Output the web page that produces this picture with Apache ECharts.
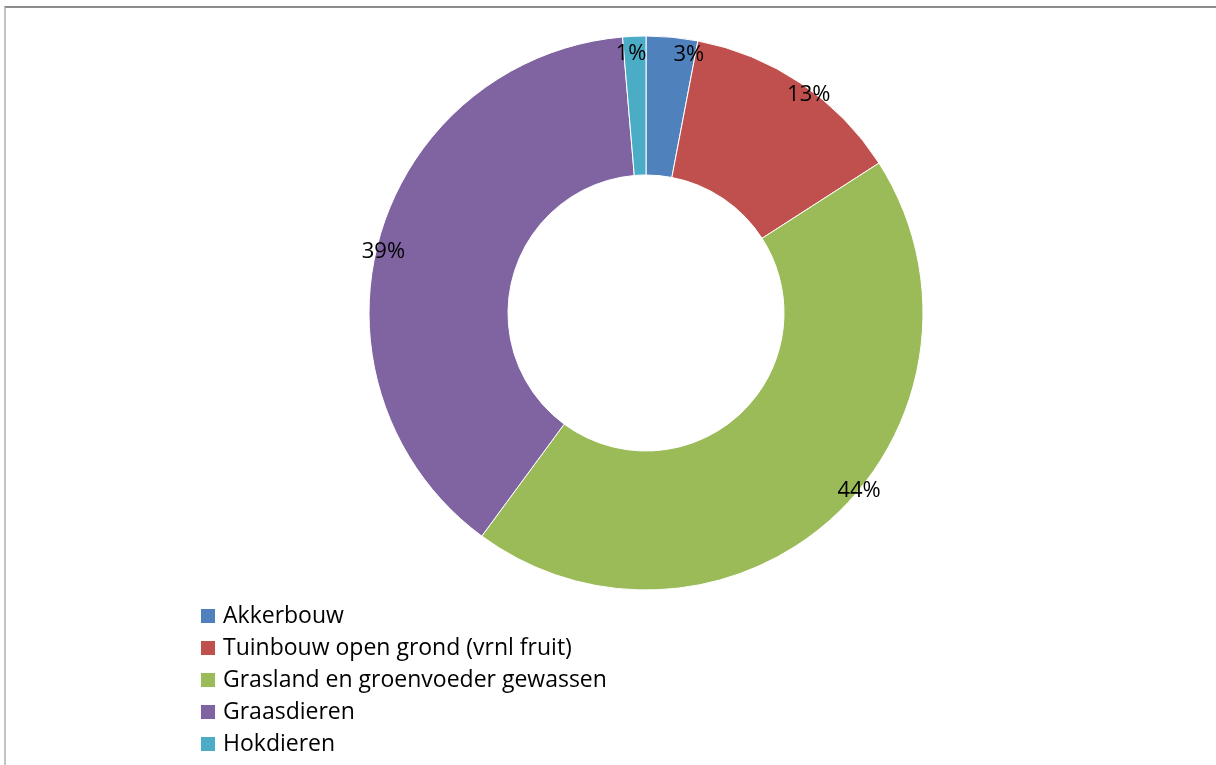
<!DOCTYPE html>
<html>
<head>
<meta charset="utf-8">
<script src="https://cdn.jsdelivr.net/npm/echarts@6/dist/echarts.min.js"></script>
<style>
html,body{margin:0;padding:0;background:#fff;width:1216px;height:765px;overflow:hidden;}
#frame{position:absolute;left:4px;top:6px;width:1220px;height:800px;border-top:2px solid #8c8c8c;border-left:2px solid #c4c4c4;box-sizing:border-box;}
#chart{position:absolute;left:0;top:0;width:1216px;height:765px;}
</style>
</head>
<body>
<div id="frame"></div>
<div id="chart"></div>
<script>
const categories = ['Akkerbouw', 'Tuinbouw open grond (vrnl fruit)', 'Grasland en groenvoeder gewassen', 'Graasdieren', 'Hokdieren'];
const values = [3.0, 12.9, 44.2, 38.55, 1.35];
const colors = ['#4F81BD', '#C0504D', '#9BBB59', '#8064A2', '#4BACC6'];
const labelOffsets = [[23, -49], [45, -44], [69, 24], [-60, -4], [-6, -49]];

const chart = echarts.init(document.getElementById('chart'), null, {renderer: 'canvas'});
const font = '"Open Sans", "Noto Sans", sans-serif';
chart.setOption({
  animation: false,
  backgroundColor: 'transparent',
  color: colors,
  legend: {
    orient: 'vertical',
    left: 201,
    top: 604,
    padding: 0,
    itemWidth: 14,
    itemHeight: 14,
    itemGap: 8,
    icon: 'rect',
    itemStyle: {borderWidth: 0},
    textStyle: {fontFamily: font, fontSize: 23, color: '#000', lineHeight: 24, padding: [0, 0, 0, 3]},
    data: categories
  },
  series: [{
    type: 'pie',
    center: [646, 313],
    radius: [138, 277],
    startAngle: 90,
    clockwise: true,
    avoidLabelOverlap: false,
    itemStyle: {borderColor: '#fff', borderWidth: 1},
    label: {
      show: true,
      position: 'inside',
      fontFamily: font,
      fontSize: 22,
      color: '#000',
      formatter: p => Math.round(p.percent) + '%'
    },
    labelLine: {show: false},
    emphasis: {disabled: true},
    data: categories.map((c, i) => ({
      name: c,
      value: values[i],
      label: {offset: labelOffsets[i]}
    }))
  }]
});
</script>
</body>
</html>
